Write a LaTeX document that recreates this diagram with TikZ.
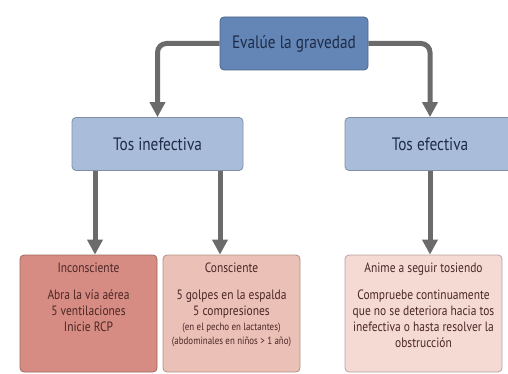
\documentclass[tikz,border=0pt]{standalone}
\usepackage{fontspec}
\setmainfont{PT Sans}[FakeStretch=0.85]
\usetikzlibrary{arrows.meta}

\definecolor{azultop}{HTML}{6386B6}
\definecolor{azulmed}{HTML}{A9BDDB}
\definecolor{rojo}{HTML}{D68C82}
\definecolor{rosa}{HTML}{EBC0B6}
\definecolor{rosaclaro}{HTML}{F4DAD3}
\definecolor{gris}{HTML}{6B6B6B}
\definecolor{tinta}{HTML}{1E2B47}
\definecolor{tintaroja}{HTML}{4A2626}

\tikzset{
  caja/.style={draw=#1!75!black, fill=#1, rounded corners=4pt, line width=0.8pt, inner sep=0pt},
  flecha/.style={draw=gris, line width=5pt, -{Triangle[width=15pt,length=15pt]}},
  texto/.style={text=tintaroja, align=center, font=\fontsize{13.5}{16}\selectfont, inner sep=0pt}
}

\begin{document}
\begin{tikzpicture}[x=1pt,y=-1pt]
    \useasboundingbox (0,0) rectangle (508,374);
    \clip (0,0) rectangle (508,374);
    % Primer nivel
    \node[caja=azultop, minimum width=148pt, minimum height=53pt, text=tinta,
          font=\fontsize{18}{20}\selectfont] (eval) at (294,43.5) {Evalúe la gravedad};
    % Segundo nivel
    \node[caja=azulmed, minimum width=171pt, minimum height=53pt, text=tinta,
          font=\fontsize{18}{20}\selectfont] (inef) at (157.5,144) {Tos inefectiva};
    \node[caja=azulmed, minimum width=170pt, minimum height=53pt, text=tinta,
          font=\fontsize{18}{20}\selectfont] (efec) at (430,144) {Tos efectiva};
    % Tercer nivel
    \node[caja=rojo, minimum width=137pt, minimum height=117pt] (inc) at (88.5,313.5) {};
    \node[caja=rosa, minimum width=137pt, minimum height=117pt] (cons) at (231.5,313.5) {};
    \node[caja=rosaclaro, minimum width=157pt, minimum height=117pt] (anime) at (423.5,313.5) {};
    \node[texto, anchor=north] (incT) at ([yshift=-8pt]inc.north)
        {Inconsciente\\[11pt] Abra la vía aérea\\ 5 ventilaciones\\ Inicie RCP};
    \node[texto, anchor=north] (consT) at ([yshift=-8pt]cons.north)
        {Consciente\\[11pt] 5 golpes en la espalda\\ 5 compresiones\\[-1pt]
         {\fontsize{10.5}{13}\selectfont (en el pecho en lactantes)}\\[-2pt]
         {\fontsize{10.5}{13}\selectfont (abdominales en niños > 1 año)}};
    \node[texto, anchor=north] (animeT) at ([yshift=-8pt]anime.north)
        {Anime a seguir tosiendo\\[11pt] Compruebe continuamente\\ que no se deteriora hacia tos\\
         inefectiva o hasta resolver la\\ obstrucción};
    % Conectores
    \draw[flecha, rounded corners=9pt] (eval.west) -| (inef.north);
    \draw[flecha, rounded corners=9pt] (eval.east) -| (efec.north);
    \draw[flecha] ([xshift=-62.5pt]inef.south) coordinate (a1) -- (a1 |- inc.north);
    \draw[flecha] ([xshift=62.5pt]inef.south) coordinate (a2) -- (a2 |- cons.north);
    \draw[flecha] (efec.south) -- (efec.south |- anime.north);
\end{tikzpicture}
\end{document}
